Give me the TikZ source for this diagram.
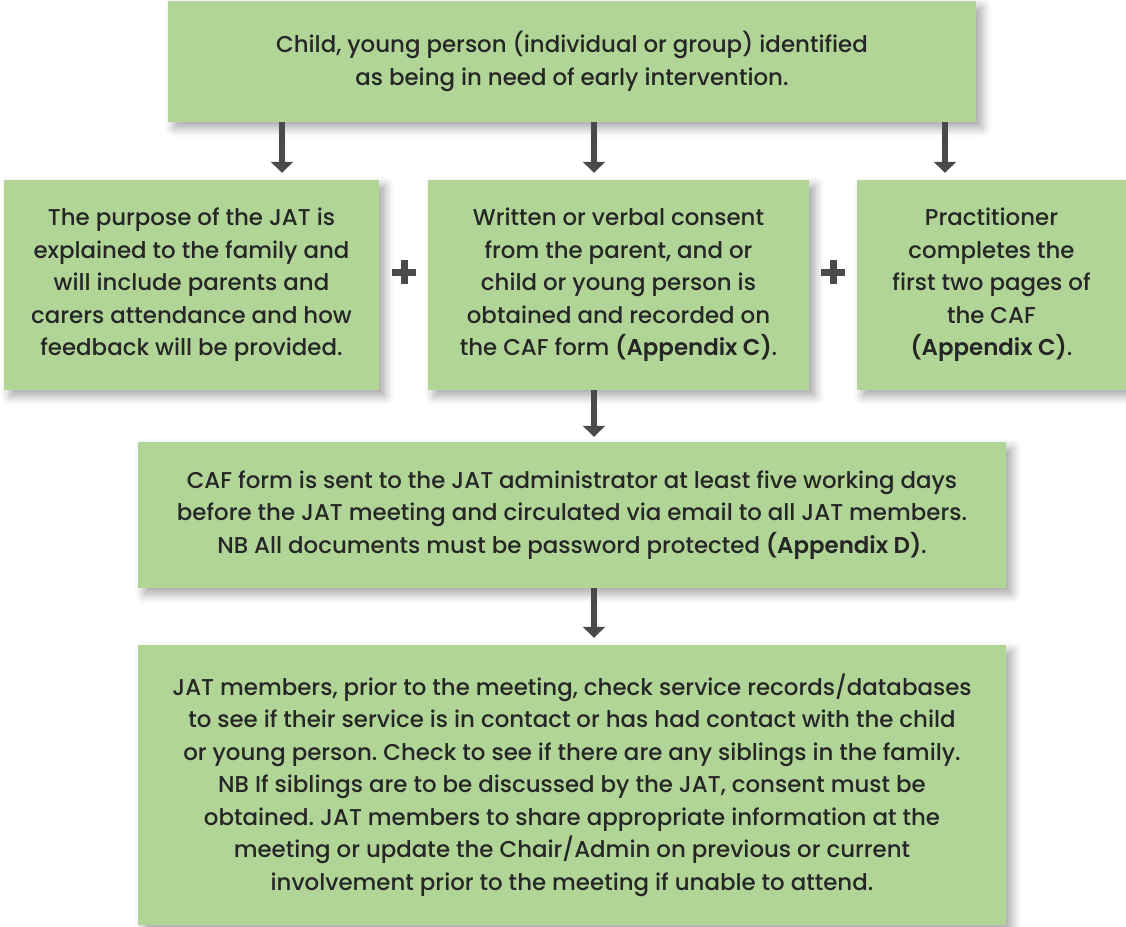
\documentclass[tikz,border=0pt]{standalone}
\usepackage{fontspec}
\setmainfont{Poppins}[UprightFont=* Medium, BoldFont=* SemiBold]
\usetikzlibrary{arrows.meta,shadows.blur}
\definecolor{boxgreen}{HTML}{B1D597}
\definecolor{txt}{HTML}{262626}
\definecolor{arrowgray}{HTML}{4A4A4A}
\frenchspacing
\tikzset{
  box/.style={fill=boxgreen, inner sep=0pt, align=center, text=txt,
    font=\fontsize{22.9}{32.5}\selectfont\frenchspacing,
    blur shadow={shadow xshift=6pt, shadow yshift=-6pt, shadow blur radius=9pt, shadow opacity=35}},
  arr/.style={draw=arrowgray, line width=6pt, -{Triangle[width=22pt,length=11pt]}},
  plusmark/.style={draw=arrowgray, line width=7pt}
}
\begin{document}
\begin{tikzpicture}[x=1pt,y=-1pt]
\useasboundingbox (0,0) rectangle (1126,926);
\node[box, minimum width=808pt, minimum height=121pt] (top) at (572,61.5)
  {Child, young person (individual or group) identified\\as being in need of early intervention.};
\node[box, minimum width=375pt, minimum height=210pt] (left) at (191.5,285)
  {The purpose of the JAT is\\explained to the family and\\will include parents and\\carers attendance and how\\feedback will be provided.};
\node[box, minimum width=381pt, minimum height=210pt] (mid) at (618.5,285)
  {Written or verbal consent\\from the parent, and or\\child or young person is\\obtained and recorded on\\the CAF form \textbf{(Appendix C)}.};
\node[box, minimum width=269pt, minimum height=210pt] (right) at (991.5,285)
  {Practitioner\\completes the\\first two pages of\\the CAF\\\textbf{(Appendix C)}.};
\node[box, minimum width=868pt, minimum height=146pt] (caf) at (572,515)
  {CAF form is sent to the JAT administrator at least five working days\\before the JAT meeting and circulated via email to all JAT members.\\NB All documents must be password protected \textbf{(Appendix D)}.};
\node[box, minimum width=868pt, minimum height=280pt] (members) at (572,785)
  {JAT members, prior to the meeting, check service records/databases\\to see if their service is in contact or has had contact with the child\\or young person. Check to see if there are any siblings in the family.\\NB If siblings are to be discussed by the JAT, consent must be\\obtained. JAT members to share appropriate information at the\\meeting or update the Chair/Admin on previous or current\\involvement prior to the meeting if unable to attend.};
\coordinate (a1) at (282,0);
\coordinate (a2) at (594,0);
\coordinate (a3) at (945,0);
\draw[arr, shorten >=7pt] (top.south -| a1) -- (left.north -| a1);
\draw[arr, shorten >=7pt] (top.south -| a2) -- (mid.north -| a2);
\draw[arr, shorten >=7pt] (top.south -| a3) -- (right.north -| a3);
\draw[arr, shorten >=5pt] (mid.south -| a2) -- (caf.north -| a2);
\draw[arr, shorten >=7pt] (caf.south -| a2) -- (members.north -| a2);
\coordinate (p1) at (404,272);
\coordinate (p2) at (833,272);
\draw[plusmark] ([xshift=-12pt]p1) -- ([xshift=12pt]p1) ([yshift=-12pt]p1) -- ([yshift=12pt]p1);
\draw[plusmark] ([xshift=-12pt]p2) -- ([xshift=12pt]p2) ([yshift=-12pt]p2) -- ([yshift=12pt]p2);
\end{tikzpicture}
\end{document}
